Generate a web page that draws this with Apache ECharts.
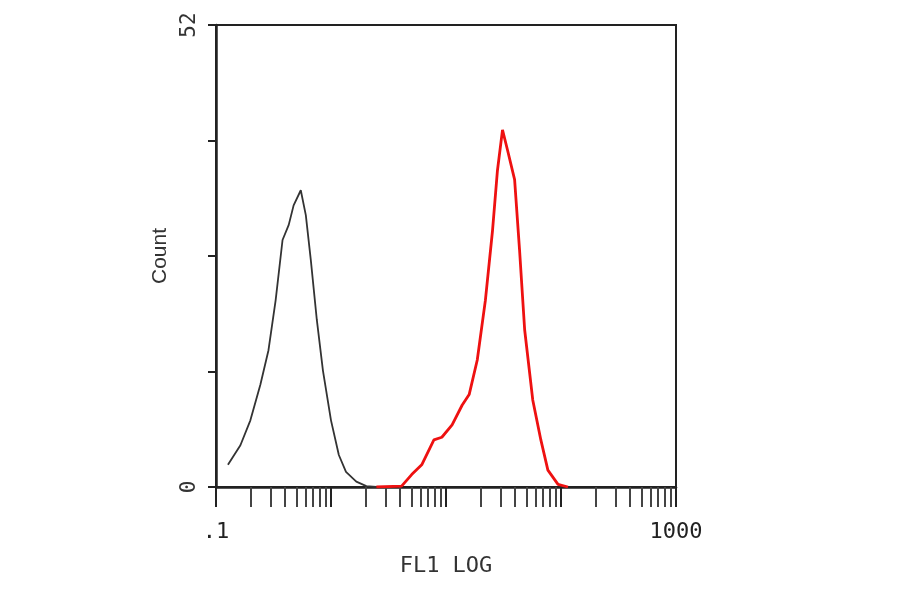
<!DOCTYPE html>
<html><head><meta charset="utf-8">
<script src="https://cdn.jsdelivr.net/npm/echarts@6/dist/echarts.min.js"></script>
<style>html,body{margin:0;background:#fff}#c{width:900px;height:594px}</style></head>
<body><div id="c"></div>
<script>
const xTicks = ['.1', '1000'];
const controlX = [0.127,0.163,0.199,0.243,0.286,0.330,0.379,0.429,0.473,0.546,0.604,0.668,0.753,0.851,1.0,1.17,1.35,1.66,2.03,2.48];
const controlY = [2.5,4.7,7.5,11.5,15.4,21.0,27.8,29.5,31.7,33.4,30.6,25.5,18.8,13.1,7.5,3.6,1.7,0.6,0.1,0];
const stainX = [2.48,4.11,5.03,6.15,7.85,9.2,11.3,13.8,15.9,18.7,22.0,25.4,28.0,31.0,34.3,39.5,43.6,48.3,56.8,66.8,76.9,94.2,115];
const stainY = [0,0.1,1.4,2.5,5.3,5.6,7.0,9.2,10.4,14.3,21.0,28.9,35.6,40.2,37.9,34.6,26.7,17.7,9.8,5.3,1.9,0.3,0];
const font = '"DejaVu Sans Mono", monospace';
const chart = echarts.init(document.getElementById('c'));
chart.setOption({
  animation:false,
  grid:{left:216,right:224,top:25,bottom:107,show:true,borderColor:'#222',borderWidth:2},
  xAxis:{type:'log',min:0.1,max:1000,logBase:10,
    name:'FL1 LOG',nameLocation:'middle',nameGap:68,nameTextStyle:{fontFamily:font,fontSize:22,color:'#333'},
    axisLine:{lineStyle:{color:'#222',width:2.5}},
    axisTick:{inside:false,length:20,lineStyle:{color:'#222',width:2}},
    minorTick:{show:true,splitNumber:9,length:20,lineStyle:{color:'#444',width:2}},
    splitLine:{show:false},minorSplitLine:{show:false},
    axisLabel:{fontFamily:font,fontSize:22,color:'#222',margin:34,
      formatter:v=> v<=0.1001 ? xTicks[0] : (v>=999 ? xTicks[1] : '')}},
  yAxis:{type:'value',min:0,max:52,interval:13,
    name:'Count',nameLocation:'middle',nameGap:24,nameRotate:90,nameTextStyle:{fontFamily:'Liberation Sans',fontSize:21,color:'#333'},
    axisLine:{show:true,lineStyle:{color:'#222',width:2.5}},
    axisTick:{length:8,lineStyle:{color:'#222',width:2}},
    splitLine:{show:false},
    axisLabel:{rotate:90,fontFamily:font,fontSize:21,color:'#333',margin:16,
      formatter:v=> (v===0||v===52)? String(v):''}},
  series:[
    {type:'line',data:controlX.map((x,i)=>[x,controlY[i]]),showSymbol:false,lineStyle:{color:'#333',width:1.8}},
    {type:'line',data:stainX.map((x,i)=>[x,stainY[i]]),showSymbol:false,lineStyle:{color:'#ee1111',width:2.8}}
  ]
});
</script></body></html>
